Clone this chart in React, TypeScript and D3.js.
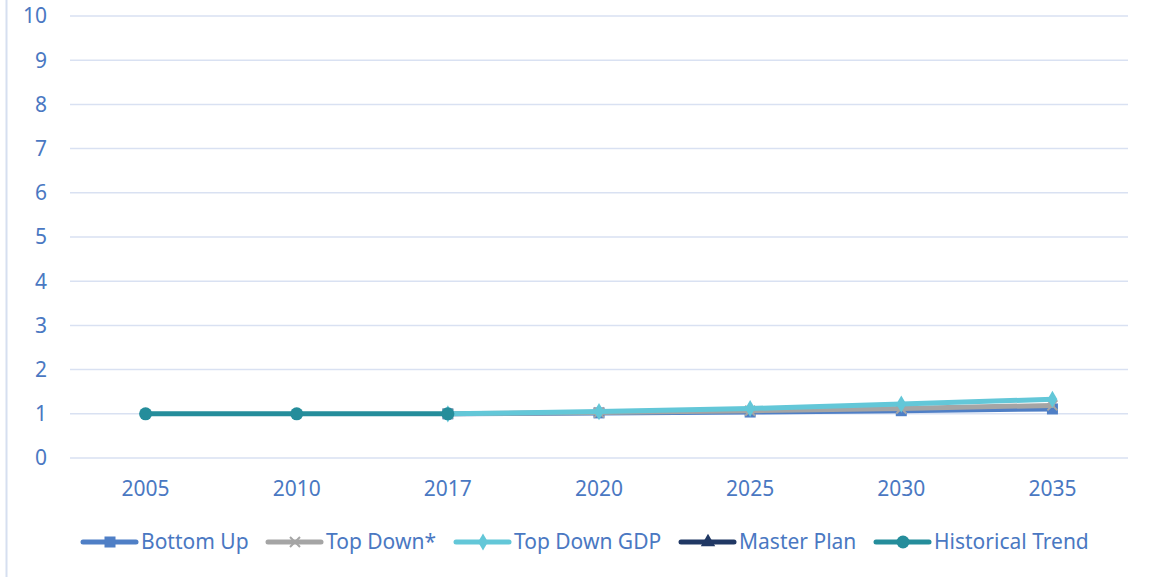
import { useEffect, useRef } from 'react'
import * as d3 from 'd3'

const years = ['2005', '2010', '2017', '2020', '2025', '2030', '2035']
const yTicks = [0, 1, 2, 3, 4, 5, 6, 7, 8, 9, 10]

// null = no value for that year
const bottomUp = [null, null, 1.0, 1.02, 1.04, 1.07, 1.11]
const topDown = [null, null, 1.0, 1.03, 1.07, 1.12, 1.19]
const topDownGdp = [null, null, 1.0, 1.05, 1.12, 1.22, 1.33]
const masterPlan: (number | null)[] = [null, null, null, null, null, null, null]
const historical = [1.0, 1.0, 1.0, null, null, null, null]

const series = [
  { name: 'Bottom Up', values: bottomUp, color: '#4F7FC6', marker: 'square' },
  { name: 'Top Down*', values: topDown, color: '#A5A5A5', marker: 'x' },
  { name: 'Top Down GDP', values: topDownGdp, color: '#63C7D8', marker: 'diamond' },
  { name: 'Master Plan', values: masterPlan, color: '#203864', marker: 'triangle' },
  { name: 'Historical Trend', values: historical, color: '#258D9B', marker: 'circle' },
]

const W = 1151
const H = 577
const font = '"Noto Sans", "Open Sans", sans-serif'
const textColor = '#4A78C2'
const fontSize = 21

function drawMarker(g: d3.Selection<SVGGElement, unknown, null, undefined>, kind: string, x: number, y: number, color: string) {
  if (kind === 'square') {
    g.append('rect').attr('x', x - 5.5).attr('y', y - 5.5).attr('width', 11).attr('height', 11).attr('fill', color)
  } else if (kind === 'circle') {
    g.append('circle').attr('cx', x).attr('cy', y).attr('r', 6.5).attr('fill', color)
  } else if (kind === 'diamond') {
    g.append('path').attr('d', d3.symbol(d3.symbolDiamond, 85)()).attr('transform', `translate(${x},${y})`).attr('fill', color)
  } else if (kind === 'triangle') {
    g.append('path').attr('d', d3.symbol(d3.symbolTriangle, 90)()).attr('transform', `translate(${x},${y})`).attr('fill', color)
  } else if (kind === 'x') {
    g.append('path').attr('d', `M${x - 5},${y - 5}L${x + 5},${y + 5}M${x - 5},${y + 5}L${x + 5},${y - 5}`)
      .attr('stroke', color).attr('stroke-width', 2).attr('fill', 'none')
  }
}

export default function App() {
  const svgRef = useRef<SVGSVGElement>(null)

  useEffect(() => {
    if (!svgRef.current) return
    const svg = d3.select(svgRef.current)
    svg.selectAll('*').remove()

    const x = d3.scaleBand().domain(years).range([70, 1128])
    const y = d3.scaleLinear().domain([0, 10]).range([458, 16])
    const cx = (d: string) => (x(d) ?? 0) + x.bandwidth() / 2

    // frame border
    svg.append('line').attr('x1', 6.5).attr('x2', 6.5).attr('y1', 0).attr('y2', H)
      .attr('stroke', '#D6DFF0').attr('stroke-width', 2)

    // gridlines
    svg.append('g').selectAll('line').data(yTicks).join('line')
      .attr('x1', 70).attr('x2', 1128)
      .attr('y1', d => y(d)).attr('y2', d => y(d))
      .attr('stroke', '#D9E1F2').attr('stroke-width', 1.5)

    svg.append('g').selectAll('text').data(yTicks).join('text')
      .attr('x', 47).attr('y', d => y(d)).attr('dy', '0.35em')
      .attr('text-anchor', 'end').attr('font-family', font).attr('font-size', fontSize)
      .attr('fill', textColor).text(d => d)

    svg.append('g').selectAll('text').data(years).join('text')
      .attr('x', d => cx(d)).attr('y', 489).attr('dy', '0.35em')
      .attr('text-anchor', 'middle').attr('font-family', font).attr('font-size', fontSize)
      .attr('fill', textColor).text(d => d)

    const plot = svg.append('g')
    series.forEach(s => {
      const pts = years.map((yr, i) => ({ yr, v: s.values[i] })).filter(p => p.v != null) as { yr: string; v: number }[]
      const line = d3.line<{ yr: string; v: number }>().x(p => cx(p.yr)).y(p => y(p.v))
      plot.append('path').datum(pts).attr('d', line).attr('fill', 'none')
        .attr('stroke', s.color).attr('stroke-width', 5).attr('stroke-linejoin', 'round').attr('stroke-linecap', 'round')
      const mg = plot.append('g')
      pts.forEach(p => drawMarker(mg, s.marker, cx(p.yr), y(p.v), s.color))
    })

    // legend
    const legendX = [83, 268, 456, 681, 876]
    const leg = svg.append('g')
    series.forEach((s, i) => {
      const lx = legendX[i]
      const ly = 542
      leg.append('line').attr('x1', lx).attr('x2', lx + 53).attr('y1', ly).attr('y2', ly)
        .attr('stroke', s.color).attr('stroke-width', 5).attr('stroke-linecap', 'round')
      const mg = leg.append('g')
      drawMarker(mg, s.marker, lx + 27, ly, s.color)
      leg.append('text').attr('x', lx + 58).attr('y', ly).attr('dy', '0.35em')
        .attr('font-family', font).attr('font-size', fontSize).attr('fill', textColor).text(s.name)
    })
  }, [])

  return (
    <svg ref={svgRef} width={W} height={H}
      style={{ position: 'absolute', left: 0, top: 0, background: '#fff' }} />
  )
}
